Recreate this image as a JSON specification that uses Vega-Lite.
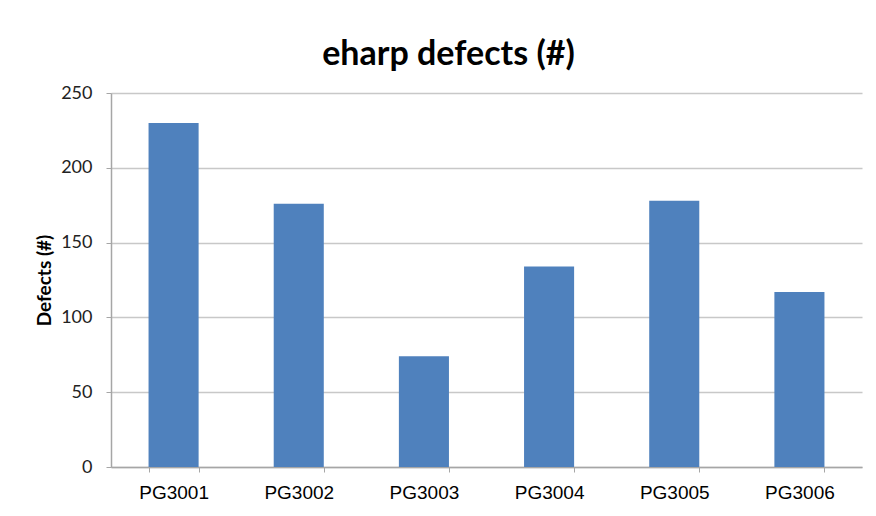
{
  "$schema": "https://vega.github.io/schema/vega-lite/v6.json",
  "width": 751,
  "height": 374,
  "autosize": {"type": "none"},
  "padding": {"left": 111, "top": 93, "right": 14, "bottom": 49},
  "background": "white",
  "title": {
    "text": "eharp defects (#)",
    "font": "Lato",
    "fontSize": 34,
    "fontWeight": "bold",
    "color": "#000000",
    "anchor": "middle",
    "dx": -38,
    "offset": 12
  },
  "data": {
    "values": [
      {"product": "PG3001", "defects": 230},
      {"product": "PG3002", "defects": 176},
      {"product": "PG3003", "defects": 74},
      {"product": "PG3004", "defects": 134},
      {"product": "PG3005", "defects": 178},
      {"product": "PG3006", "defects": 117}
    ]
  },
  "mark": {"type": "bar", "color": "#4F81BD"},
  "encoding": {
    "x": {
      "field": "product",
      "type": "nominal",
      "sort": null,
      "scale": {"paddingInner": 0.6, "paddingOuter": 0.3},
      "axis": {
        "title": null,
        "labelAngle": 0,
        "labelFont": "Liberation Sans",
        "labelFontSize": 19,
        "labelColor": "#000000",
        "labelPadding": 11,
        "tickBand": "extent",
        "tickSize": 5,
        "tickColor": "#a6a6a6",
        "domainColor": "#a6a6a6",
        "domainWidth": 1.5,
        "grid": false
      }
    },
    "y": {
      "field": "defects",
      "type": "quantitative",
      "scale": {"domain": [0, 250]},
      "axis": {
        "title": "Defects (#)",
        "titleFont": "Lato",
        "titleFontSize": 19,
        "titleFontWeight": "bold",
        "titleColor": "#000000",
        "titlePadding": 6,
        "values": [0, 50, 100, 150, 200, 250],
        "labelFont": "Lato",
        "labelFontSize": 18,
        "labelColor": "#222222",
        "labelPadding": 14,
        "tickSize": 5,
        "tickColor": "#a6a6a6",
        "domainColor": "#a6a6a6",
        "domainWidth": 1.5,
        "grid": true,
        "gridColor": "#c8c8c8",
        "gridWidth": 1.5
      }
    }
  },
  "config": {"view": {"stroke": null}}
}
